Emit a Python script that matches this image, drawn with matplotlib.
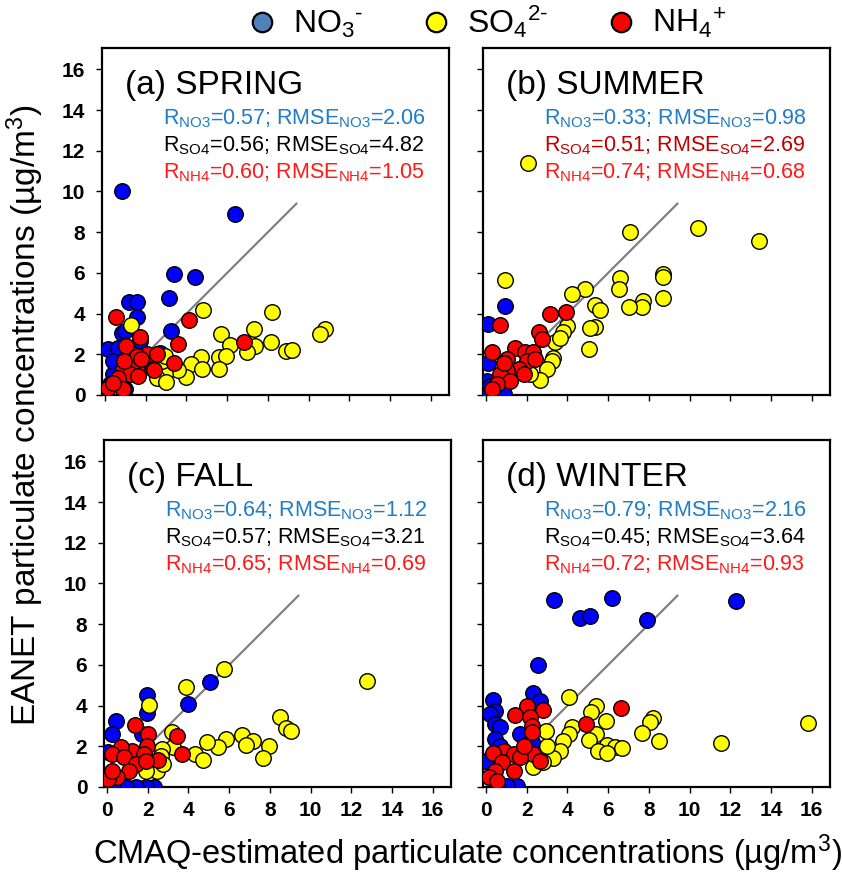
import matplotlib
matplotlib.use("Agg")
import matplotlib.pyplot as plt
from matplotlib.lines import Line2D

plt.rcParams['font.family'] = ['Liberation Sans', 'DejaVu Sans']
plt.rcParams['mathtext.fontset'] = 'custom'
plt.rcParams['mathtext.rm'] = 'Liberation Sans'
plt.rcParams['mathtext.it'] = 'Liberation Sans:italic'
plt.rcParams['mathtext.bf'] = 'Liberation Sans:bold'

# CMAQ (x) vs EANET (y), ug/m3
spring_no3_x = [0.82, 6.37, 3.4, 4.41, 3.13, 1.19, 1.55, 1.55, 0.82, 3.22, 0.16, 0.65,
                0.41, 0.98, 0.24, 1.22, 2.69, 1.71, 0.41, 0.98]
spring_no3_y = [10.0, 8.87, 5.94, 5.78, 4.76, 4.55, 4.55, 3.81, 3.07, 3.15, 2.25, 2.33,
                1.02, 0.28, 0.53, 1.67, 2.08, 2.66, 1.67, 3.15]
spring_so4_x = [4.82, 8.21, 7.31, 5.71, 1.27, 10.8, 10.56, 8.16, 6.15, 7.38, 6.99, 8.87,
                9.2, 5.6, 5.96, 4.69, 4.2, 4.78, 5.6, 4.0, 3.35, 3.6, 2.94, 2.53, 3.0,
                2.78, 2.94, 2.37]
spring_so4_y = [4.17, 4.1, 3.23, 3.02, 3.45, 3.23, 3.02, 2.61, 2.46, 2.41, 2.09, 2.17,
                2.2, 1.87, 1.92, 1.87, 1.51, 1.26, 1.26, 0.89, 1.43, 1.22, 1.02, 0.85, 0.66,
                1.67, 1.92, 1.26]
spring_nh4_x = [0.54, 4.11, 1.71, 6.81, 3.56, 1.03, 2.04, 2.56, 1.55, 3.38, 2.42, 1.55,
                0.9, 1.22, 0.65, 1.63, 0.16, 0.9, 0.41, 0.95, 1.76]
spring_nh4_y = [3.84, 3.68, 2.86, 2.61, 2.5, 2.41, 2.0, 2.0, 1.92, 1.59, 1.22, 1.43,
                1.26, 1.02, 0.85, 0.94, 0.36, 0.28, 0.61, 1.67, 1.76]

summer_no3_x = [0.94, 0.1, 0.08, 0.05, 0.05, 0.46, 0.86, 0.21]
summer_no3_y = [4.38, 3.48, 1.59, 0.69, 0.2, 0.03, 0.03, 0.44]
summer_so4_x = [2.08, 7.05, 10.42, 13.4, 0.94, 8.68, 8.68, 6.56, 6.51, 4.85, 4.2, 8.68,
                7.7, 7.65, 7.0, 5.34, 5.62, 4.0, 5.34, 5.1, 3.79, 5.06, 3.39, 3.27, 3.22,
                2.98, 2.65, 3.63, 2.17]
summer_so4_y = [11.4, 8.03, 8.19, 7.59, 5.65, 5.94, 5.78, 5.75, 5.2, 5.2, 4.96, 4.76,
                4.63, 4.3, 4.3, 4.43, 4.17, 3.37, 3.35, 3.27, 3.1, 2.28, 2.58, 1.84, 1.67,
                1.26, 0.72, 2.82, 1.02]
summer_nh4_x = [0.67, 3.14, 3.93, 2.62, 2.74, 1.4, 0.29, 1.92, 2.33, 1.03, 2.0, 1.6,
                1.03, 0.7, 1.19, 1.84, 0.54, 0.29, 0.86, 2.41]
summer_nh4_y = [3.43, 3.97, 4.06, 3.1, 2.77, 2.33, 2.09, 2.09, 2.09, 1.76, 1.67, 1.26,
                1.18, 1.02, 0.69, 1.02, 0.53, 0.28, 1.59, 1.76]

fall_no3_x = [5.07, 3.98, 1.98, 1.98, 0.46, 0.23, 0.07, 1.74, 2.31, 1.9, 1.41, 0.92, 0.26]
fall_no3_y = [5.18, 4.08, 4.54, 3.62, 3.26, 2.6, 1.7, 2.6, 0.0, 0.02, 0.0, 0.0, 0.07]
fall_so4_x = [12.77, 5.75, 3.9, 2.07, 8.49, 8.79, 9.03, 6.62, 7.18, 6.85, 7.97, 7.67,
              5.84, 5.43, 4.89, 4.33, 4.69, 3.21, 3.25, 2.72, 2.64, 2.43, 1.9, 2.75]
fall_so4_y = [5.23, 5.8, 4.9, 4.05, 3.42, 2.9, 2.74, 2.57, 2.24, 2.08, 2.03, 1.43,
              2.36, 1.98, 2.19, 1.62, 1.33, 2.69, 1.95, 1.87, 1.54, 0.8, 0.8, 1.13]
fall_nh4_x = [1.38, 2.03, 3.43, 3.67, 1.98, 2.52, 1.25, 0.67, 0.26, 0.84, 1.82, 1.41,
              1.08, 0.51, 0.07, 0.26, 1.9]
fall_nh4_y = [3.06, 2.6, 2.52, 1.62, 2.03, 1.33, 1.75, 1.98, 1.62, 1.46, 1.62, 1.13,
              0.8, 0.48, 0.39, 0.8, 1.26]

winter_no3_x = [3.34, 6.19, 12.26, 4.61, 5.1, 7.9, 2.57, 2.3, 2.65, 0.34, 0.46, 0.18,
                0.46, 0.7, 1.68, 0.46, 0.7, 0.02, 2.25, 1.51, 1.03, 0.54]
winter_no3_y = [9.19, 9.29, 9.12, 8.3, 8.42, 8.21, 6.01, 4.6, 4.24, 4.28, 3.75, 3.59,
                3.1, 2.93, 2.6, 2.36, 2.03, 1.29, 2.19, 0.07, 0.07, 0.15]
winter_so4_x = [15.8, 11.53, 4.09, 5.39, 5.18, 8.22, 8.06, 5.91, 7.67, 8.52, 5.42, 5.07,
                5.94, 6.32, 6.69, 5.5, 5.94, 4.2, 4.09, 3.79, 3.63, 3.31, 2.98, 2.95,
                2.82, 2.33]
winter_so4_y = [3.14, 2.15, 4.44, 4.0, 3.67, 3.37, 3.18, 3.26, 2.64, 2.24, 2.6, 2.31,
                2.08, 1.98, 1.92, 1.75, 1.65, 2.96, 2.6, 2.24, 1.79, 1.43, 2.03, 2.74,
                1.21, 0.97]
winter_nh4_x = [6.64, 4.9, 2.0, 2.82, 1.43, 2.17, 2.25, 2.25, 0.86, 0.34, 1.35, 1.92,
                2.33, 2.65, 0.78, 1.35, 0.46, 0.13, 0.54, 1.68, 1.84]
winter_nh4_y = [3.88, 3.1, 4.0, 3.78, 3.55, 3.46, 3.01, 2.69, 1.79, 1.65, 1.62, 1.75,
                1.62, 1.29, 1.21, 0.8, 0.8, 0.48, 0.31, 1.46, 2.03]

panel_titles = ["(a) SPRING", "(b) SUMMER", "(c) FALL", "(d) WINTER"]
r_no3 = ["0.57", "0.33", "0.64", "0.79"]
rmse_no3 = ["2.06", "0.98", "1.12", "2.16"]
r_so4 = ["0.56", "0.51", "0.57", "0.45"]
rmse_so4 = ["4.82", "2.69", "3.21", "3.64"]
r_nh4 = ["0.60", "0.74", "0.65", "0.72"]
rmse_nh4 = ["1.05", "0.68", "0.69", "0.93"]

ticks = [0, 2, 4, 6, 8, 10, 12, 14, 16]
one_to_one = [0, 9.4]

seasons = [
    (spring_no3_x, spring_no3_y, spring_so4_x, spring_so4_y, spring_nh4_x, spring_nh4_y),
    (summer_no3_x, summer_no3_y, summer_so4_x, summer_so4_y, summer_nh4_x, summer_nh4_y),
    (fall_no3_x, fall_no3_y, fall_so4_x, fall_so4_y, fall_nh4_x, fall_nh4_y),
    (winter_no3_x, winter_no3_y, winter_so4_x, winter_so4_y, winter_nh4_x, winter_nh4_y),
]

W, H = 842, 875
fig = plt.figure(figsize=(W / 100, H / 100), dpi=100)

# panel boxes in pixels: left, top
boxes = [(102, 48), (483, 48), (104, 440), (483, 440)]
size = 347

blue_txt = '#1f7cc8'
so4_txt = ['black', '#c00000', 'black', 'black']
nh4_txt = '#ff1a1a'

for i, (nx, ny, sx, sy, hx, hy) in enumerate(seasons):
    left, top = boxes[i]
    ax = fig.add_axes([left / W, 1 - (top + size) / H, size / W, size / H])
    ax.plot(one_to_one, one_to_one, color='#808080', lw=1.6, zorder=1)
    kw = dict(s=125, edgecolors='black', linewidths=1.0, zorder=3)
    ax.scatter(nx, ny, c='#0000ff', **kw)
    ax.scatter(sx, sy, c='#ffff00', **kw)
    ax.scatter(hx, hy, c='#ff0000', **kw)

    ax.set_xlim(-0.15, 16.9)
    ax.set_ylim(0, 17.05)
    ax.set_xticks(ticks)
    ax.set_yticks(ticks)
    ax.tick_params(direction='out', length=4, width=1, labelsize=15)
    ax.tick_params(axis='y', pad=8)
    ax.tick_params(axis='x', pad=6)
    for lab in ax.get_xticklabels() + ax.get_yticklabels():
        lab.set_fontweight('bold')
    if i < 2:
        ax.tick_params(labelbottom=False)
    if i % 2 == 1:
        ax.tick_params(labelleft=False)
    for sp in ax.spines.values():
        sp.set_linewidth(1.6)

    ax.text(0.065, 0.893, panel_titles[i], transform=ax.transAxes,
            fontsize=24, va='center', ha='left')
    tx = 0.175
    fs = 15.5
    ax.text(tx, 0.795, r"R$_{\mathrm{NO3}}$=%s; RMSE$_{\mathrm{NO3}}$=%s" % (r_no3[i], rmse_no3[i]),
            transform=ax.transAxes, fontsize=fs, color=blue_txt, va='center')
    ax.text(tx, 0.718, r"R$_{\mathrm{SO4}}$=%s; RMSE$_{\mathrm{SO4}}$=%s" % (r_so4[i], rmse_so4[i]),
            transform=ax.transAxes, fontsize=fs, color=so4_txt[i], va='center')
    ax.text(tx, 0.642, r"R$_{\mathrm{NH4}}$=%s; RMSE$_{\mathrm{NH4}}$=%s" % (r_nh4[i], rmse_nh4[i]),
            transform=ax.transAxes, fontsize=fs, color=nh4_txt, va='center')

fig.text(25 / W, 1 - 415 / H, r"EANET particulate concentrations (µg/m$^{3}$)",
         rotation=90, fontsize=24, ha='center', va='center')
fig.text(467 / W, 1 - 853 / H, r"CMAQ-estimated particulate concentrations (µg/m$^{3}$)",
         fontsize=23.5, ha='center', va='center')

handles = [
    Line2D([], [], ls='none', marker='o', ms=14, mfc='#4f81bd', mec='black', mew=1.6),
    Line2D([], [], ls='none', marker='o', ms=14, mfc='#ffff00', mec='black', mew=1.6),
    Line2D([], [], ls='none', marker='o', ms=14, mfc='#ff0000', mec='black', mew=1.6),
]
labels = [r"NO$_3$$^{\text{-}}$", r"SO$_4$$^{\text{2-}}$", r"NH$_4$$^{+}$"]
fig.legend(handles, labels, loc='center', bbox_to_anchor=(486 / W, 1 - 22 / H),
           ncol=3, frameon=False, fontsize=23, handletextpad=0.45, columnspacing=1.8,
           borderpad=0, handlelength=1.0)

fig.savefig("out.png", dpi=100)
